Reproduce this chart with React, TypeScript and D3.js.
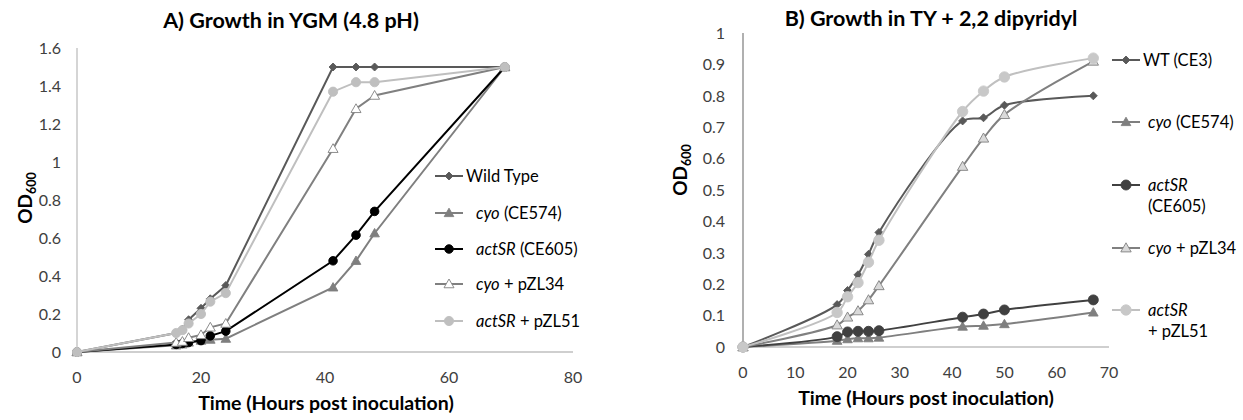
import React, { useRef, useEffect } from 'react';
import * as d3 from 'd3';

// panel A: growth in YGM
const timesA = [0, 16, 17, 18, 20, 21.5, 24, 41.3, 45, 48, 69];
const wildTypeA = [0, 0.1, 0.12, 0.17, 0.23, 0.28, 0.35, 1.5, 1.5, 1.5, 1.5];
const cyoA = [0, 0.035, 0.04, 0.05, 0.06, 0.065, 0.07, 0.34, 0.48, 0.625, 1.5];
const actSRA = [0, 0.04, 0.045, 0.05, 0.06, 0.085, 0.11, 0.48, 0.615, 0.74, 1.5];
const cyoPZL34A = [0, 0.05, 0.055, 0.075, 0.09, 0.13, 0.15, 1.07, 1.28, 1.35, 1.5];
const actSRPZL51A = [0, 0.1, 0.115, 0.15, 0.2, 0.265, 0.31, 1.37, 1.42, 1.42, 1.5];
const xTicksA = [0, 20, 40, 60, 80];
const yTicksA = [0, 0.2, 0.4, 0.6, 0.8, 1, 1.2, 1.4, 1.6];

// panel B: growth in TY + 2,2 dipyridyl
const timesB = [0, 18, 20, 22, 24, 26, 42, 46, 50, 67];
const wtB = [0, 0.135, 0.18, 0.23, 0.295, 0.365, 0.72, 0.73, 0.77, 0.8];
const cyoB = [0, 0.02, 0.025, 0.028, 0.028, 0.03, 0.065, 0.068, 0.073, 0.11];
const actSRB = [0, 0.033, 0.048, 0.05, 0.05, 0.052, 0.095, 0.105, 0.118, 0.15];
const cyoPZL34B = [0, 0.07, 0.095, 0.115, 0.15, 0.195, 0.575, 0.665, 0.74, 0.91];
const actSRPZL51B = [0, 0.11, 0.16, 0.205, 0.27, 0.34, 0.75, 0.815, 0.86, 0.92];
const xTicksB = [0, 10, 20, 30, 40, 50, 60, 70];
const yTicksB = [0, 0.1, 0.2, 0.3, 0.4, 0.5, 0.6, 0.7, 0.8, 0.9, 1];

const FONT = 'Lato, "Open Sans", sans-serif';

type Part = { t: string; i?: boolean };
type Series = {
  values: number[];
  color: string;
  marker: 'diamond' | 'triangle' | 'circle';
  fill: string;
  stroke: string;
  r: number;
  indent: boolean;
  label: Part[][];
};

function markerPath(kind: string, r: number) {
  if (kind === 'diamond') return `M0,${-r}L${r},0L0,${r}L${-r},0Z`;
  if (kind === 'triangle') return `M0,${-r}L${r},${r * 0.75}L${-r},${r * 0.75}Z`;
  return `M${r},0A${r},${r} 0 1,1 ${-r},0A${r},${r} 0 1,1 ${r},0Z`;
}

const seriesA: Series[] = [
  { values: wildTypeA, color: '#595959', marker: 'diamond', fill: '#595959', stroke: '#595959', r: 4, indent: false, label: [[{ t: 'Wild Type' }]] },
  { values: cyoA, color: '#7f7f7f', marker: 'triangle', fill: '#7f7f7f', stroke: '#7f7f7f', r: 4.8, indent: true, label: [[{ t: 'cyo', i: true }, { t: ' (CE574)' }]] },
  { values: actSRA, color: '#000000', marker: 'circle', fill: '#000000', stroke: '#000000', r: 4.3, indent: true, label: [[{ t: 'actSR', i: true }, { t: ' (CE605)' }]] },
  { values: cyoPZL34A, color: '#808080', marker: 'triangle', fill: '#ffffff', stroke: '#808080', r: 5, indent: true, label: [[{ t: 'cyo', i: true }, { t: ' + pZL34' }]] },
  { values: actSRPZL51A, color: '#bfbfbf', marker: 'circle', fill: '#bfbfbf', stroke: '#bfbfbf', r: 4.6, indent: true, label: [[{ t: 'actSR', i: true }, { t: ' + pZL51' }]] },
];

const seriesB: Series[] = [
  { values: wtB, color: '#595959', marker: 'diamond', fill: '#595959', stroke: '#595959', r: 4, indent: false, label: [[{ t: 'WT (CE3)' }]] },
  { values: cyoB, color: '#7f7f7f', marker: 'triangle', fill: '#7f7f7f', stroke: '#7f7f7f', r: 4.8, indent: true, label: [[{ t: 'cyo', i: true }, { t: ' (CE574)' }]] },
  { values: actSRB, color: '#404040', marker: 'circle', fill: '#404040', stroke: '#404040', r: 5, indent: true, label: [[{ t: 'actSR', i: true }], [{ t: '(CE605)' }]] },
  { values: cyoPZL34B, color: '#808080', marker: 'triangle', fill: '#d9d9d9', stroke: '#808080', r: 5.2, indent: true, label: [[{ t: 'cyo', i: true }, { t: ' + pZL34' }]] },
  { values: actSRPZL51B, color: '#c0c0c0', marker: 'circle', fill: '#c8c8c8', stroke: '#c8c8c8', r: 5.2, indent: true, label: [[{ t: 'actSR', i: true }], [{ t: '+ pZL51' }]] },
];

type PanelCfg = {
  title: string;
  titleX: number;
  titleY: number;
  times: number[];
  series: Series[];
  xDomain: [number, number];
  xRange: [number, number];
  yDomain: [number, number];
  yRange: [number, number];
  xTicks: number[];
  yTicks: number[];
  yAxisColor: string;
  yLabelGap: number;
  smooth: boolean;
  xTitleX: number;
  xTitleY: number;
  yTitleX: number;
  yTitleY: number;
  legendX: number;
  legendText: number;
  legendIndent: number;
  legendRows: number[];
};

function drawPanel(svg: d3.Selection<SVGSVGElement, unknown, null, undefined>, cfg: PanelCfg) {
  const g = svg.append('g');
  const x = d3.scaleLinear().domain(cfg.xDomain).range(cfg.xRange);
  const y = d3.scaleLinear().domain(cfg.yDomain).range(cfg.yRange);

  // title
  g.append('text')
    .attr('x', cfg.titleX).attr('y', cfg.titleY)
    .attr('text-anchor', 'middle')
    .attr('font-family', FONT).attr('font-weight', 700).attr('font-size', 21.5)
    .attr('fill', '#000')
    .text(cfg.title);

  // axis lines
  g.append('line')
    .attr('x1', x(0)).attr('x2', x(0))
    .attr('y1', y(cfg.yDomain[1])).attr('y2', y(0))
    .attr('stroke', cfg.yAxisColor).attr('stroke-width', 1.3);
  g.append('line')
    .attr('x1', x(0)).attr('x2', x(cfg.xDomain[1]))
    .attr('y1', y(0)).attr('y2', y(0))
    .attr('stroke', '#bfbfbf').attr('stroke-width', 1.5);

  g.selectAll('text.ytick')
    .data(cfg.yTicks)
    .join('text')
    .attr('class', 'ytick')
    .attr('x', x(0) - cfg.yLabelGap).attr('y', d => y(d))
    .attr('dy', '0.36em')
    .attr('text-anchor', 'end')
    .attr('font-family', FONT).attr('font-size', 16)
    .attr('fill', '#404040')
    .text(d => String(+d.toFixed(1)));

  g.selectAll('text.xtick')
    .data(cfg.xTicks)
    .join('text')
    .attr('class', 'xtick')
    .attr('x', d => x(d)).attr('y', y(0) + 31)
    .attr('text-anchor', 'middle')
    .attr('font-family', FONT).attr('font-size', 16)
    .attr('fill', '#404040')
    .text(d => String(d));

  // axis titles
  g.append('text')
    .attr('x', cfg.xTitleX).attr('y', cfg.xTitleY)
    .attr('text-anchor', 'middle')
    .attr('font-family', FONT).attr('font-weight', 700).attr('font-size', 19.5)
    .attr('fill', '#000')
    .text('Time (Hours post inoculation)');

  const yt = g.append('text')
    .attr('transform', `translate(${cfg.yTitleX},${cfg.yTitleY}) rotate(-90)`)
    .attr('text-anchor', 'middle')
    .attr('font-family', FONT).attr('font-weight', 700).attr('font-size', 19)
    .attr('fill', '#000');
  yt.append('tspan').text('OD');
  yt.append('tspan').attr('font-size', 12.5).attr('dy', 4).text('600');

  const lineGen = d3.line<number>()
    .x((v, i) => x(cfg.times[i]))
    .y(v => y(v))
    .curve(cfg.smooth ? d3.curveCatmullRom.alpha(0.5) : d3.curveLinear);

  cfg.series.forEach(s => {
    g.append('path')
      .attr('d', lineGen(s.values))
      .attr('fill', 'none')
      .attr('stroke', s.color)
      .attr('stroke-width', 2);
    g.selectAll(null)
      .data(s.values)
      .join('path')
      .attr('transform', (v, i) => `translate(${x(cfg.times[i])},${y(v)})`)
      .attr('d', markerPath(s.marker, s.r))
      .attr('fill', s.fill)
      .attr('stroke', s.stroke)
      .attr('stroke-width', 0.9);
  });

  // legend
  cfg.series.forEach((s, k) => {
    const ly = cfg.legendRows[k];
    const lx = cfg.legendX;
    g.append('line')
      .attr('x1', lx).attr('x2', lx + 28)
      .attr('y1', ly).attr('y2', ly)
      .attr('stroke', s.color).attr('stroke-width', 2);
    g.append('path')
      .attr('transform', `translate(${lx + 14},${ly})`)
      .attr('d', markerPath(s.marker, s.r))
      .attr('fill', s.fill).attr('stroke', s.stroke).attr('stroke-width', 0.9);
    s.label.forEach((lineParts, li) => {
      const t = g.append('text')
        .attr('x', cfg.legendText + (s.indent ? cfg.legendIndent : 0))
        .attr('y', ly + li * 21)
        .attr('dy', '0.35em')
        .attr('font-family', FONT).attr('font-size', 16.5)
        .attr('fill', '#000')
        .style('white-space', 'pre');
      lineParts.forEach(p => {
        t.append('tspan')
          .attr('font-style', p.i ? 'italic' : 'normal')
          .text(p.t);
      });
    });
  });
}

export default function App() {
  const svgRef = useRef<SVGSVGElement>(null);

  useEffect(() => {
    const svg = d3.select(svgRef.current!);
    svg.selectAll('*').remove();

    drawPanel(svg, {
      title: 'A) Growth in YGM (4.8 pH)',
      titleX: 291, titleY: 28,
      times: timesA, series: seriesA,
      xDomain: [0, 80], xRange: [77, 573],
      yDomain: [0, 1.6], yRange: [352, 48],
      xTicks: xTicksA, yTicks: yTicksA,
      yAxisColor: '#bfbfbf',
      yLabelGap: 16,
      smooth: false,
      xTitleX: 326, xTitleY: 410,
      yTitleX: 32, yTitleY: 198,
      legendX: 435, legendText: 466, legendIndent: 10,
      legendRows: [176, 213, 249, 284, 321],
    });

    drawPanel(svg, {
      title: 'B) Growth in TY + 2,2 dipyridyl',
      titleX: 931, titleY: 26,
      times: timesB, series: seriesB,
      xDomain: [0, 70], xRange: [743, 1109],
      yDomain: [0, 1], yRange: [347, 33],
      xTicks: xTicksB, yTicks: yTicksB,
      yAxisColor: '#868686',
      yLabelGap: 18,
      smooth: true,
      xTitleX: 926, xTitleY: 405,
      yTitleX: 687, yTitleY: 170,
      legendX: 1112, legendText: 1143, legendIndent: 5,
      legendRows: [60, 122, 185, 248, 310],
    });
  }, []);

  return (
    <svg
      ref={svgRef}
      width={1243}
      height={420}
      viewBox="0 0 1243 420"
      style={{ position: 'absolute', left: 0, top: 0, background: '#fff' }}
    />
  );
}
